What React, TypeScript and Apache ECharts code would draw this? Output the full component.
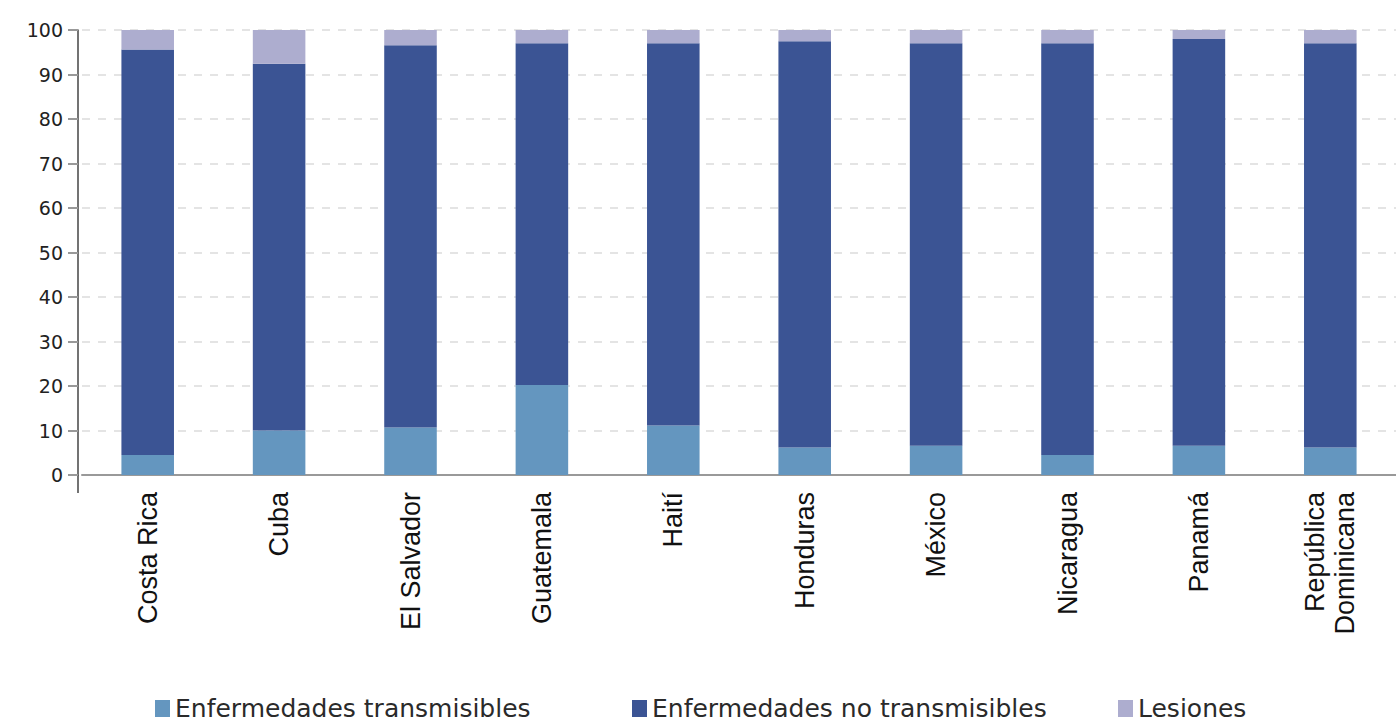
import React, { useEffect, useRef } from "react";
import * as echarts from "echarts";

const categories = [
  "Costa Rica",
  "Cuba",
  "El Salvador",
  "Guatemala",
  "Haití",
  "Honduras",
  "México",
  "Nicaragua",
  "Panamá",
  "República\nDominicana",
];
const transmisibles = [4.5, 10.0, 10.7, 20.2, 11.1, 6.2, 6.6, 4.5, 6.6, 6.2];
const noTransmisibles = [91.1, 82.4, 85.9, 76.8, 85.9, 91.3, 90.4, 92.5, 91.4, 90.8];
const lesiones = [4.4, 7.6, 3.4, 3.0, 3.0, 2.5, 3.0, 3.0, 2.0, 3.0];
const seriesNames = [
  "Enfermedades transmisibles",
  "Enfermedades no transmisibles",
  "Lesiones",
];
const colors = ["#6496bf", "#3b5494", "#adadcf"];

export default function App() {
  const ref = useRef<HTMLDivElement>(null);
  useEffect(() => {
    if (!ref.current) return;
    const chart = echarts.init(ref.current, null, { renderer: "svg" });
    const data = [transmisibles, noTransmisibles, lesiones];
    const legendLefts = [155, 632, 1118];
    chart.setOption({
      animation: false,
      color: colors,
      grid: { left: 82, top: 30, right: -1, bottom: 250, containLabel: false },
      legend: seriesNames.map((name, i) => ({
        top: 696,
        left: legendLefts[i],
        padding: 0,
        itemWidth: 15,
        itemHeight: 17,
        itemGap: 4,
        icon: "rect",
        textStyle: {
          fontFamily: "DejaVu Sans",
          fontSize: 25,
          color: "#2a2a2a",
          padding: [0, 0, 0, 0],
        },
        data: [name],
      })),
      xAxis: {
        type: "category",
        data: categories,
        axisLine: { lineStyle: { color: "#999", width: 2 } },
        axisTick: { show: false },
        axisLabel: {
          rotate: 90,
          margin: 17,
          fontFamily: "Liberation Sans",
          fontSize: 27,
          color: "#111",
          interval: 0,
          lineHeight: 30,
        },
      },
      yAxis: {
        type: "value",
        min: 0,
        max: 100,
        interval: 10,
        offset: 4,
        axisLine: { show: true, lineStyle: { color: "#444", width: 1.5 } },
        axisTick: { show: true, length: 10, lineStyle: { color: "#999", width: 2 } },
        axisLabel: { fontFamily: "DejaVu Sans", fontSize: 19, color: "#222", margin: 15 },
        splitLine: { lineStyle: { type: [8, 8], color: "#dcdcdc", width: 1.5 } },
      },
      graphic: [
        {
          type: "line",
          shape: { x1: 78, y1: 475, x2: 78, y2: 493 },
          style: { stroke: "#444", lineWidth: 1.5 },
        },
      ],
      series: seriesNames.map((name, i) => ({
        name,
        type: "bar",
        stack: "total",
        barWidth: "40%",
        data: data[i],
        itemStyle: { color: colors[i] },
      })),
    });
    return () => chart.dispose();
  }, []);
  return <div ref={ref} style={{ width: 1396, height: 725, position: "absolute", left: 0, top: 0 }} />;
}
